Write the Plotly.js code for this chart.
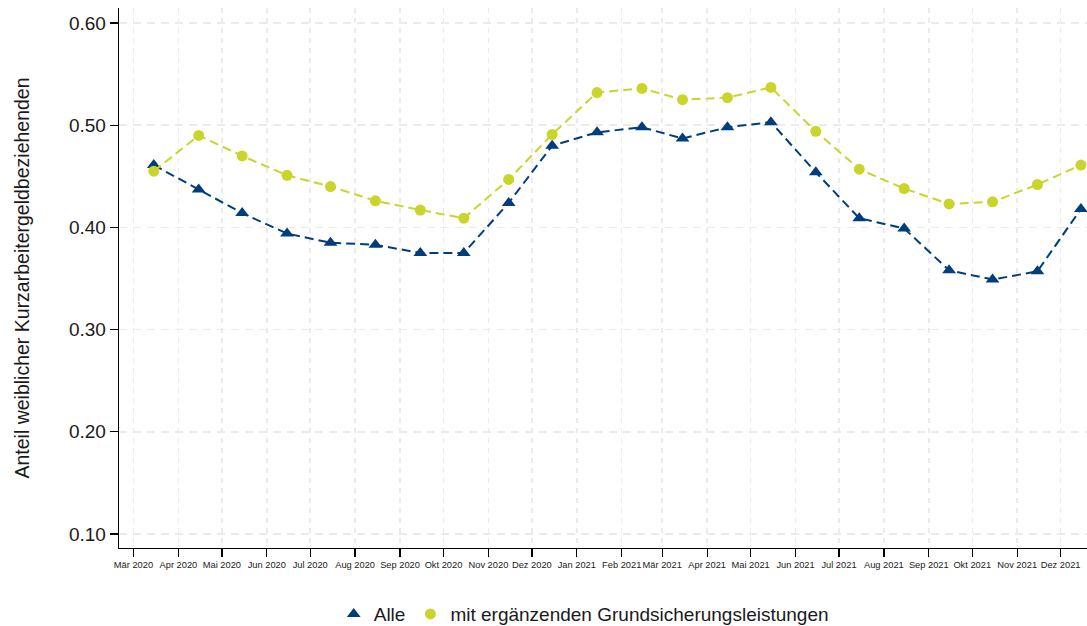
<!DOCTYPE html>
<html>
<head>
<meta charset="utf-8">
<script src="https://cdn.plot.ly/plotly-3.0.1.min.js"></script>
<style>html,body{margin:0;padding:0;background:#fff;}#chart{width:1087px;height:626px;}</style>
</head>
<body>
<div id="chart"></div>
<script>
const months = ["2020-03-15","2020-04-15","2020-05-15","2020-06-15","2020-07-15","2020-08-15","2020-09-15","2020-10-15","2020-11-15","2020-12-15","2021-01-15","2021-02-15","2021-03-15","2021-04-15","2021-05-15","2021-06-15","2021-07-15","2021-08-15","2021-09-15","2021-10-15","2021-11-15","2021-12-15"];
const alle = [0.461,0.437,0.414,0.394,0.385,0.383,0.375,0.375,0.424,0.480,0.493,0.498,0.487,0.498,0.503,0.454,0.409,0.399,0.358,0.349,0.357,0.418];
const grundsicherung = [0.455,0.490,0.470,0.451,0.440,0.426,0.417,0.409,0.447,0.491,0.532,0.536,0.525,0.527,0.537,0.494,0.457,0.438,0.423,0.425,0.442,0.461];
const tickDates = ["2020-03-01","2020-04-01","2020-05-01","2020-06-01","2020-07-01","2020-08-01","2020-09-01","2020-10-01","2020-11-01","2020-12-01","2021-01-01","2021-02-01","2021-03-01","2021-04-01","2021-05-01","2021-06-01","2021-07-01","2021-08-01","2021-09-01","2021-10-01","2021-11-01","2021-12-01"];
const tickLabels = ["Mär 2020","Apr 2020","Mai 2020","Jun 2020","Jul 2020","Aug 2020","Sep 2020","Okt 2020","Nov 2020","Dez 2020","Jan 2021","Feb 2021","Mär 2021","Apr 2021","Mai 2021","Jun 2021","Jul 2021","Aug 2021","Sep 2021","Okt 2021","Nov 2021","Dez 2021"];
const yTicks = [0.1,0.2,0.3,0.4,0.5,0.6];
const yTickLabels = ["0.10","0.20","0.30","0.40","0.50","0.60"];
const seriesNames = ["Alle","mit ergänzenden Grundsicherungsleistungen"];

const navy = "#003d7c";
const lime = "#c9d52b";

const traces = [
  {x: months, y: alle, name: seriesNames[0], type: "scatter", mode: "lines+markers", showlegend: false,
   line: {color: navy, width: 2, dash: "9px,5px"},
   marker: {symbol: "triangle-up", size: 12, color: navy}},
  {x: months, y: grundsicherung, name: seriesNames[1], type: "scatter", mode: "lines+markers", showlegend: false,
   line: {color: lime, width: 2, dash: "9px,5px"},
   marker: {symbol: "circle", size: 11, color: lime}},
  // legend entries (marker only, as in the reference legend)
  {x: [null], y: [null], name: seriesNames[0], type: "scatter", mode: "markers",
   marker: {symbol: "triangle-up", size: 12, color: navy}},
  {x: [null], y: [null], name: seriesNames[1], type: "scatter", mode: "markers",
   marker: {symbol: "circle", size: 11, color: lime}}
];

const layout = {
  width: 1087, height: 626,
  margin: {l: 119, r: 0, t: 8, b: 78},
  paper_bgcolor: "#fff", plot_bgcolor: "#fff",
  font: {family: "Liberation Sans, Arial, sans-serif", color: "#1a1a1a"},
  showlegend: true,
  legend: {orientation: "h", xref: "container", yref: "container",
           x: 0.537, xanchor: "center", y: 0.019, yanchor: "middle",
           font: {size: 19, color: "#1a1a1a"}, itemwidth: 30},
  xaxis: {
    type: "date",
    range: ["2020-02-20", "2021-12-19 05:00"],
    tickmode: "array", tickvals: tickDates, ticktext: tickLabels,
    tickfont: {size: 9.3, color: "#1a1a1a"},
    ticks: "outside", ticklen: 8, tickwidth: 1.3, tickcolor: "#000",
    showline: true, linecolor: "#000", linewidth: 1.3,
    showgrid: true, gridcolor: "#ebebeb", gridwidth: 1.5, griddash: "5px,5px",
    zeroline: false, tickangle: 0
  },
  yaxis: {
    range: [0.0863, 0.6147],
    tickmode: "array", tickvals: yTicks, ticktext: yTickLabels,
    tickfont: {size: 19, color: "#1a1a1a"},
    ticks: "outside", ticklen: 8, tickwidth: 1.3, tickcolor: "#000",
    showline: true, linecolor: "#000", linewidth: 1.3,
    showgrid: true, gridcolor: "#ebebeb", gridwidth: 1.5, griddash: "8px,6px",
    zeroline: false,
    title: {text: "Anteil weiblicher Kurzarbeitergeldbeziehenden", font: {size: 19.5, color: "#1a1a1a"}, standoff: 34}
  }
};

Plotly.newPlot("chart", traces, layout, {displayModeBar: false, staticPlot: true});
</script>
</body>
</html>
